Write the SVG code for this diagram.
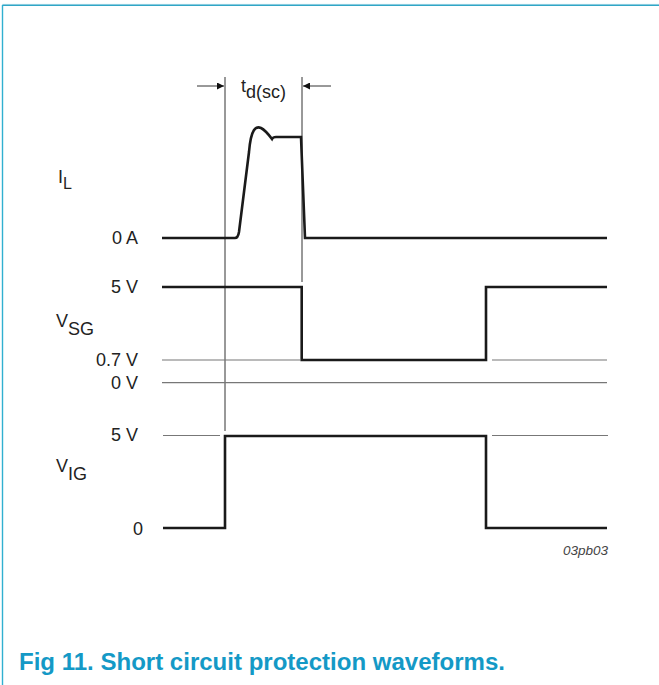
<svg xmlns="http://www.w3.org/2000/svg" width="659" height="685" viewBox="0 0 659 685">
<style>
.lbl{font-family:"Liberation Sans",Arial,sans-serif;font-size:18px;fill:#222}
.sub{font-size:16px}
.wave{fill:none;stroke:#1a1a1a;stroke-width:2.6;stroke-linejoin:miter}
.ref{fill:none;stroke:#777;stroke-width:1.2}
.mark{fill:none;stroke:#333;stroke-width:1}
</style>
<defs>
<marker id="ah" viewBox="0 0 10 10" refX="10" refY="5" markerWidth="13" markerHeight="7" markerUnits="userSpaceOnUse" orient="auto">
<path d="M0,0 L10,5 L0,10 z" fill="#111"/>
</marker>
</defs>
<rect width="659" height="685" fill="#fff"/>
<g id="frame">
<line x1="2" y1="4.3" x2="659" y2="4.3" stroke="#d6eef5" stroke-width="1"/>
<line x1="2.5" y1="5.3" x2="659" y2="5.3" stroke="#30a6c6" stroke-width="1.4"/>
<line x1="2.5" y1="5" x2="2.5" y2="685" stroke="#30b0d0" stroke-width="1.4"/>
</g>
<g id="connectors">
<line class="mark" x1="225" y1="77" x2="225" y2="431"/>
<line class="mark" x1="302" y1="77" x2="302" y2="282"/>
<line class="mark" x1="197" y1="86" x2="224" y2="86" marker-end="url(#ah)"/>
<line class="mark" x1="331" y1="86" x2="303" y2="86" marker-end="url(#ah)"/>
<line class="ref" x1="162" y1="360" x2="300" y2="360"/>
<line class="ref" x1="492" y1="360" x2="607" y2="360"/>
<line class="ref" x1="162" y1="382.7" x2="607" y2="382.7"/>
<line class="ref" x1="163" y1="435.5" x2="220" y2="435.5"/>
<line class="ref" x1="492" y1="435.5" x2="608" y2="435.5"/>
</g>
<g id="IL">
<path class="wave" d="M162,238 L235,238 Q238,238 239,232 L249,152 C251,128 256,126 261,128 C265,130 269,135 272,139 C273,137 274,137 276,137 L301,137 L305,238 L607,238"/>
<text class="lbl" x="58" y="183">I<tspan class="sub" dy="6">L</tspan></text>
<text class="lbl" x="138" y="244" text-anchor="end">0 A</text>
</g>
<g id="VSG">
<path class="wave" d="M162,287 L301.7,287 L301.7,360 L486,360 L486,287 L607,287"/>
<text class="lbl" x="56" y="327">V<tspan dy="8">SG</tspan></text>
<text class="lbl" x="138" y="293" text-anchor="end">5 V</text>
<text class="lbl" x="138" y="366" text-anchor="end">0.7 V</text>
<text class="lbl" x="138" y="389" text-anchor="end">0 V</text>
</g>
<g id="VIG">
<path class="wave" d="M163,528 L225,528 L225,436 L486,436 L486,528 L607,528"/>
<text class="lbl" x="56" y="472">V<tspan dy="8">IG</tspan></text>
<text class="lbl" x="138" y="441" text-anchor="end">5 V</text>
<text class="lbl" x="143" y="535" text-anchor="end">0</text>
</g>
<g id="tdsc">
<text class="lbl" x="241" y="92">t<tspan dy="6">d(sc)</tspan></text>
</g>
<text x="608" y="555" text-anchor="end" font-family="Liberation Sans,Arial,sans-serif" font-style="italic" font-size="13.5" fill="#444">03pb03</text>
<text x="19" y="670" font-family="Liberation Sans,Arial,sans-serif" font-weight="bold" font-size="23.5" fill="#1499c6" textLength="486" lengthAdjust="spacingAndGlyphs">Fig 11. Short circuit protection waveforms.</text>
</svg>
